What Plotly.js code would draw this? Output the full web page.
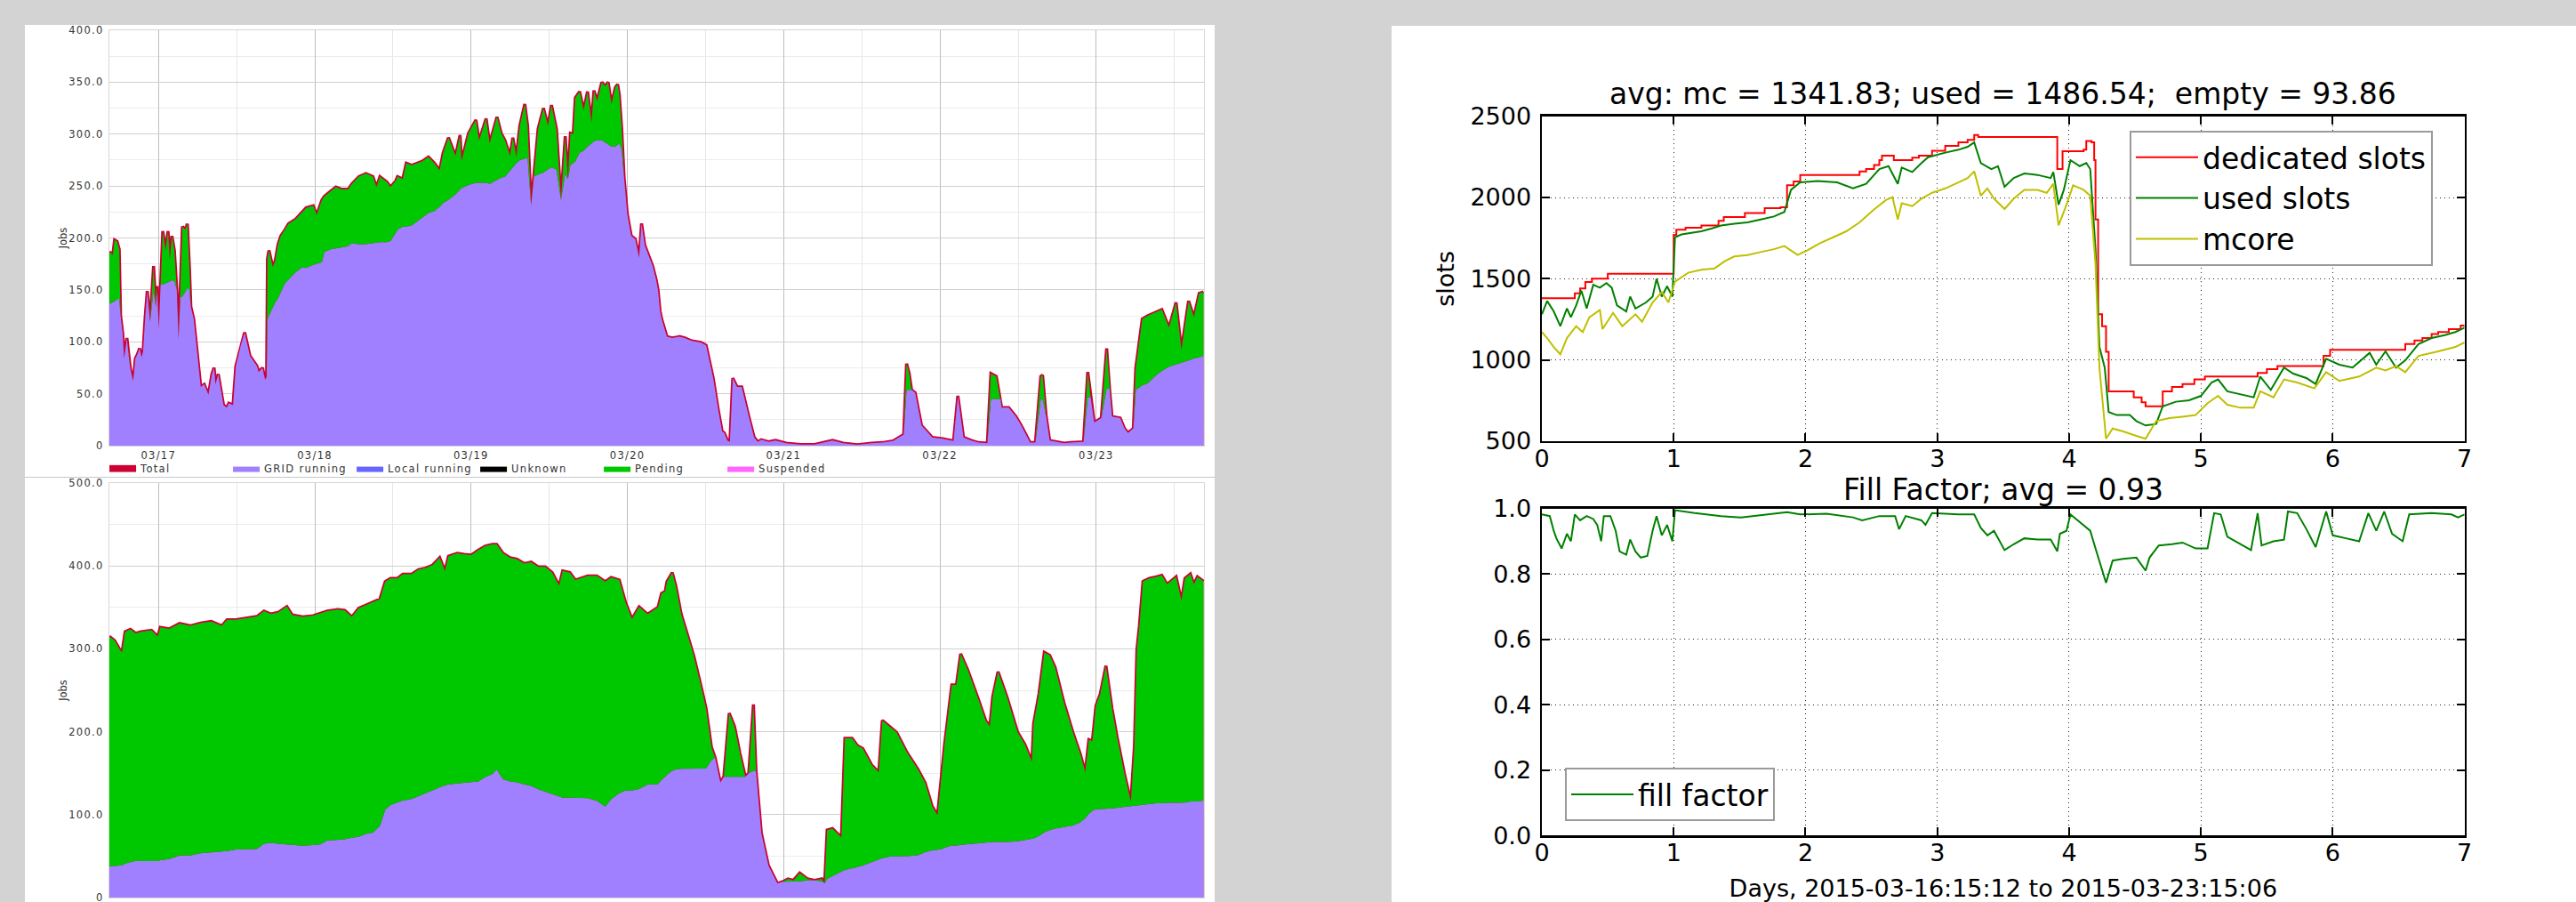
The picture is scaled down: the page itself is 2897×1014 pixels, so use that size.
<!DOCTYPE html>
<html>
<head>
<meta charset="utf-8">
<script src="https://cdn.plot.ly/plotly-3.0.1.min.js"></script>
<style>
  html, body { margin:0; padding:0; width:2897px; height:1014px; overflow:hidden; background:#d3d3d3; }
  #leftPanel { position:absolute; left:28px; top:28px; width:1338px; height:986px; background:#fff; }
  #jobsTop { position:absolute; left:28px; top:28px; width:1338px; height:508px; }
  #sep { position:absolute; left:28px; top:536px; width:1338px; height:1px; background:#c8c8c8; }
  #jobsBottom { position:absolute; left:28px; top:537px; width:1338px; height:477px; }
  #rightPanel { position:absolute; left:1565px; top:29px; width:1332px; height:985px; background:#fff; }
  .jobs .xtick text, .jobs .ytick text, .jobs .legendtext { letter-spacing:1.3px; }
</style>
</head>
<body>
<div id="leftPanel"></div>
<div id="jobsTop" class="jobs"></div>
<div id="sep"></div>
<div id="jobsBottom" class="jobs"></div>
<div id="rightPanel"></div>
<script>
// ---------------- DATA ----------------
// Left charts: rows of [hours since 2015-03-17 00:00, Total jobs, GRID running jobs]
// (Pending = the band between GRID running and Total)
const jobsTopRows = [
  [-7.56,186.6,136.6],[-7.02,183.7,138],[-6.75,198,139],[-6.37,196.6,141],[-6.04,189,142],
  [-5.83,125,125],[-5.5,108,108],[-5.29,83.7,83.7],[-4.86,103.7,103.7],[-4.53,84,84],
  [-4.32,73.7,73.7],[-3.89,62,62],[-3.56,84,84],[-3.24,88,88],[-2.91,93.7,93.7],
  [-2.59,85,85],[-2.37,91,91],[-2.05,123.7,123.7],[-1.73,149,149],[-1.3,119,119],
  [-0.76,173,150],[-0.43,133.7,133.7],[-0.22,153.7,150],[0.05,112,112],[0.32,161,155],
  [0.65,206.6,155],[1.08,188,156],[1.46,206.6,157],[1.73,179,158],[2.05,202,159],
  [2.43,188,159],[2.8,150,150],[3.08,102,102],[3.35,150,143],[3.67,211,143.7],
  [4.1,208,148],[4.43,213.7,152],[4.75,170,150],[4.96,133.7,133.7],[5.4,122,122],
  [6.26,73.7,73.7],[6.48,56.6,56.6],[7.02,59,59],[7.66,49,49],[8.2,69,69],
  [8.53,75,75],[8.74,59,59],[9.17,69,69],[9.98,39,39],[10.47,36.6,36.6],
  [10.79,40.8,40.8],[11.44,39,39],[11.87,76.6,76.6],[12.63,96.6,96.6],[13.22,109,109],
  [14.03,86.6,86.6],[15.11,76.6,76.6],[15.38,70.8,70.8],[15.97,75,75],[16.35,63.7,63.7],
  [16.6,66,66],[16.73,180,121],[16.95,188,125],[17.54,172,133],[17.92,178,138],
  [18.35,193.7,142],[18.78,202,148],[19.43,208,156.6],[19.97,213.7,160],[21.05,218,167],
  [22.13,225,172],[22.67,229,171],[23.75,231,174],[24.28,222,175],[25.09,236.6,176.6],
  [25.47,240,186.6],[26.44,245,189],[27.25,249,190],[28.06,247,191],[29.14,247,192],
  [29.68,252,195],[30.76,259,193.7],[31.84,262,194],[32.92,259,195],[33.46,249,195],
  [34.0,259,196],[35.08,253.7,196],[35.62,249,197],[36.43,255,205],[36.7,259,208],
  [37.5,256.6,211],[38.05,272,211],[38.86,270,212],[40.47,273.7,219],[41.45,278,224],
  [42.36,272,226],[43.17,265,230],[43.71,282,233.7],[44.52,296.6,236.6],[45.6,279,242],
  [46.3,299,246],[46.52,273.7,248],[47.6,300.8,251],[48.73,313.7,253],[49.22,293.7,253],
  [50.3,315,253],[50.84,291,252],[51.97,316.6,256],[52.62,300.8,258],[53.21,293.7,259],
  [53.97,279,265],[54.4,296.6,268],[54.94,278,272],[55.48,308,275],[56.24,329,276.6],
  [56.67,308,277],[57.21,231,231],[57.64,259,259],[58.29,305,261],[59.1,325,263],
  [59.8,308,266],[60.34,328,268],[61.1,305,266],[61.8,236.6,236.6],[62.45,298,262],
  [62.87,256.6,256.6],[63.25,300.8,270],[63.68,300,272],[64.0,335,273.7],[64.66,341,282],
  [65.27,323,284],[65.88,341,288],[66.49,311,291],[66.86,342,293],[67.34,332,294],
  [68.07,350,294],[68.56,346,292],[69.05,350,290],[69.54,329,288],[70.15,345,288],
  [70.5,348,290],[70.75,338,291],[71.12,305,285],[71.49,258,258],[71.98,223,223],
  [72.58,202,202],[73.2,199,199],[73.8,181,181],[74.17,214,214],[74.66,193,193],
  [75.4,181,181],[75.87,173,173],[76.4,160,160],[76.7,150,150],[77.0,130,130],
  [77.25,122,122],[78.07,105,105],[78.89,103.7,103.7],[79.98,105,105],[80.8,103.7,103.7],
  [81.89,100.8,100.8],[83.26,99.4,99.4],[84.08,96.6,96.6],[84.63,79,79],[85.17,65,65],
  [85.89,36.6,36.6],[86.54,13.7,13.7],[86.87,12.3,12.3],[87.36,5,5],[87.74,3.7,3.7],
  [88.18,65,65],[88.84,56.6,56.6],[89.55,56.6,56.6],[90.64,28,28],[91.46,8,8],
  [92.01,3.7,3.7],[92.56,5.7,5.7],[93.65,3.7,3.7],[94.74,5,5],[96.38,2.3,2.3],
  [98.57,1.1,1.1],[100.76,1.1,1.1],[101.85,2.9,2.9],[103.49,5,5],[105.13,2.3,2.3],
  [107.32,0.8,0.8],[109.5,2.3,2.3],[111.14,2.9,2.9],[112.79,4.6,4.6],[114.43,10.8,10.8],
  [114.86,79,53.7],[115.25,70,53.7],[115.63,53.7,53.7],[116.18,51,51],[117.16,19.4,19.4],
  [117.98,13.7,13.7],[118.8,8,8],[120.44,6.6,6.6],[122.08,4.6,4.6],[122.74,48,48],
  [123.61,8,8],[124.81,5,5],[125.91,2.9,2.9],[127.27,2.3,2.3],[127.82,69.4,45],
  [128.64,66.6,45],[129.3,45,45],[129.46,36.6,36.6],[130.55,36.6,36.6],[131.65,28,28],
  [132.47,19.4,19.4],[133.83,2.9,2.9],[134.65,2.9,2.9],[135.48,66.6,45],[135.75,68,45],
  [136.3,28,28],[136.84,5,5],[137.94,3.7,3.7],[139.03,2.3,2.3],[140.12,2.9,2.9],
  [142.04,3.7,3.7],[142.69,71,46.6],[143.13,46.6,46.6],[143.68,22.3,22.3],[144.77,26.6,26.6],
  [145.59,93.7,55],[146.03,55,55],[146.41,28,28],[147.67,26.6,26.6],[148.32,16.6,16.6],
  [148.87,12.3,12.3],[149.69,16.6,16.6],[150.07,75,53.7],[151.06,122,58],[151.88,125,60],
  [153.24,129,68],[154.06,131,72],[155.16,113.7,76],[156.25,138,78],[157.07,92,79.4],
  [158.17,139.4,82],[158.99,123.7,84],[159.8,146.6,85],[160.46,148,86.6]
];

const jobsBottomRows = [
  [-7.56,315,37.5],[-6.75,310,38],[-5.94,299,38.5],[-5.6,295.6,39],[-5.13,320.6,41],
  [-4.32,323.4,42.5],[-3.51,318.8,44.3],[-2.7,320.6,44],[-1.08,322.4,43.6],[-0.11,315,44],
  [0.27,326,45],[1.62,324,46.5],[3.24,330.6,50.7],[4.86,327.7,50.7],[6.48,331,53.3],
  [8.1,333,54.3],[9.71,327.7,55],[10.52,335,56],[11.87,335,57.9],[14.03,337.7,58.6],
  [15.11,339,58.6],[16.19,345.6,65],[17.27,342,66],[18.35,343.8,65],[19.7,351,64],
  [20.51,341,63.3],[22.13,338.5,62.5],[23.75,340,63.3],[24.82,342.7,64],[25.9,345.6,68.6],
  [27.52,347.4,69.7],[28.6,346.3,70.4],[29.68,338.5,72.2],[30.76,349,73.3],[31.84,352.7,76.8],
  [32.92,356.3,78.3],[34.0,360,86.5],[34.81,381,106],[35.62,385,111.5],[36.7,385,115],
  [37.51,390,117],[38.86,390,118.7],[39.93,395.6,122],[41.01,397.4,125.8],[42.09,401,129.4],
  [43.17,410,133],[43.98,393.8,135.5],[44.52,411.7,136.5],[45.87,415.3,137.6],[46.95,414,138.3],
  [48.03,413.2,139],[49.11,418.9,140],[50.19,424,145.5],[51.27,426,149],[51.92,426,154.4],
  [52.89,415.3,142.6],[53.97,410,140],[55.05,408,139],[56.13,402.8,136.5],[57.21,404.6,134.7],
  [58.29,399,130.5],[59.37,399,127.6],[60.44,392,124.7],[61.52,376,122],[62.06,394,120.4],
  [63.14,392,120.4],[64.0,383,120.4],[65.9,388,120],[67.3,388,116.8],[68.6,381,109.6],
  [69.5,386,118.6],[70.75,383,125.7],[71.7,356,129],[72.7,336,129],[73.8,350.6,131],
  [75.1,341.7,136.4],[76.7,350,136.8],[77.25,367,142],[77.8,369,145.7],[78.07,381,148],
  [78.89,392,152.9],[79.43,376,154.6],[80.25,342,155.4],[81.07,320.7,155.7],[82.17,292,155.7],
  [83.26,256.4,155.7],[84.08,228,155.7],[84.9,181.4,165.4],[85.45,169,169],[86.27,138.6,138.6],
  [86.81,145.7,145.7],[87.63,222.5,145.7],[88.45,206.4,145.7],[89.27,174,145.7],[90.1,145.7,145.7],
  [90.64,150,150],[91.35,233,152.9],[91.74,152.9,152.9],[92.56,77.9,77.9],[93.65,38.6,38.6],
  [95.02,17.1,17.1],[95.84,19,19],[96.66,22.5,19],[97.48,20.7,19],[98.46,29.6,19.6],
  [99.66,22.5,20.7],[100.76,20.7,20.7],[101.85,22.5,19.6],[102.29,17.1,17.1],[102.67,81.4,22.5],
  [103.49,83.2,26],[104.86,72.5,31.4],[105.4,192,33.2],[106.5,192,35],[107.32,183.2,36.8],
  [108.14,179.6,38.6],[109.5,160,42.9],[110.6,151,45.7],[111.14,213.6,47.5],[112.24,206.4,49.3],
  [113.33,199.3,49.3],[114.97,174.3,50],[116.61,154.6,51],[117.71,138.6,54.6],[118.8,110,57],
  [119.62,99.3,58.2],[120.17,145.7,58.2],[120.71,185,60],[121.81,256.4,62.9],[122.52,256.4,62.9],
  [123.17,294,63.6],[124.27,274.3,64.3],[125.91,238.6,65.4],[127.0,213.6,66.4],[127.66,206.4,67],
  [128.09,242,67],[128.91,272.5,67],[130.28,242,67],[131.92,199.3,67.9],[133.01,185,68.9],
  [134.11,163.6,70.7],[134.38,210,71],[135.2,245.7,74.3],[136.02,295.7,78.6],[136.84,292,81.4],
  [137.66,277.9,83.2],[139.03,235,85],[140.4,199.3,86.8],[141.49,174.3,90.4],[142.31,151,95.7],
  [142.86,190.4,101],[143.4,188.6,104.6],[143.95,231.4,106.4],[144.61,245.7,107],[145.48,279.6,107],
  [146.41,227.9,107.5],[147.23,192,108.2],[148.32,149.3,109.3],[149.31,115.4,110],[149.86,183.2,110.7],
  [150.24,299.3,111],[150.62,327.9,111],[151.17,381.4,111.8],[152.15,385,112.9],[153.24,386.8,113.6],
  [154.06,388.6,113.6],[154.88,377.9,114.3],[156.25,386.8,114.3],[157.07,358.2,114.6],[157.62,385,114.6],
  [158.44,390.4,116],[158.99,377.9,116],[159.53,386.8,116],[160.46,381.4,117]
];

// Series shown in the legend that stay at zero over the whole week
const localRunning = [0, 0];
const unknownJobs = [0, 0];
const suspendedJobs = [0, 0];

const jobsYTopVals = [0, 50, 100, 150, 200, 250, 300, 350, 400];
const jobsYTopText = ['0', '50.0', '100.0', '150.0', '200.0', '250.0', '300.0', '350.0', '400.0'];
const jobsYBotVals = [0, 100, 200, 300, 400, 500];
const jobsYBotText = ['0', '100.0', '200.0', '300.0', '400.0', '500.0'];

// Right charts: [day, value]
const dedicatedSlots = [
  [0,1380],[0.25,1410],[0.29,1440],[0.33,1480],[0.38,1500],[0.5,1531],[1.0,1770],[1.02,1801],
  [1.09,1814],[1.21,1828],[1.34,1856],[1.38,1880],[1.54,1905],[1.69,1934],[1.81,1940],[1.86,2075],
  [1.91,2099],[1.96,2139],[2.41,2160],[2.46,2175],[2.52,2200],[2.56,2230],[2.58,2257],[2.67,2230],
  [2.81,2245],[2.86,2257],[2.96,2288],[3.06,2317],[3.16,2339],[3.23,2354],[3.28,2385],[3.31,2372],
  [3.91,2175],[3.95,2285],[4.11,2294],[4.13,2348],[4.17,2339],[4.19,2230],[4.2,1865],[4.22,1281],
  [4.25,1208],[4.28,1050],[4.3,807],[4.49,770],[4.55,740],[4.58,715],[4.71,807],[4.78,834],
  [4.86,852],[4.95,880],[5.03,898],[5.43,920],[5.5,943],[5.58,962],[5.93,1025],[5.98,1062],
  [6.55,1098],[6.62,1120],[6.68,1135],[6.75,1160],[6.8,1172],[6.88,1190],[6.97,1212],[7.0,1212]
];
const usedSlots = [
  [0,1281],[0.04,1363],[0.09,1299],[0.14,1208],[0.19,1317],[0.22,1263],[0.26,1336],[0.3,1427],
  [0.34,1317],[0.39,1463],[0.44,1445],[0.49,1473],[0.53,1445],[0.57,1336],[0.64,1299],[0.67,1390],
  [0.71,1317],[0.79,1354],[0.84,1390],[0.87,1500],[0.91,1390],[0.95,1454],[0.99,1390],[1.01,1755],
  [1.06,1773],[1.14,1783],[1.21,1792],[1.29,1810],[1.36,1828],[1.46,1838],[1.56,1847],[1.66,1865],
  [1.76,1883],[1.84,1911],[1.89,2047],[1.96,2093],[2.09,2102],[2.24,2093],[2.36,2056],[2.46,2084],
  [2.56,2175],[2.63,2193],[2.7,2084],[2.73,2184],[2.81,2157],[2.88,2212],[2.93,2248],[3.06,2276],
  [3.16,2294],[3.23,2312],[3.28,2339],[3.33,2212],[3.41,2175],[3.46,2193],[3.51,2066],[3.58,2120],
  [3.66,2148],[3.76,2139],[3.86,2120],[3.88,2157],[3.92,1956],[3.96,2047],[4.01,2230],[4.08,2193],
  [4.13,2212],[4.16,2175],[4.2,1682],[4.23,1080],[4.27,953],[4.3,679],[4.36,661],[4.46,661],
  [4.51,624],[4.58,597],[4.66,606],[4.71,715],[4.81,743],[4.91,752],[5.0,779],[5.08,861],
  [5.13,880],[5.2,807],[5.3,788],[5.4,770],[5.45,898],[5.53,816],[5.63,953],[5.7,916],
  [5.8,889],[5.87,852],[5.95,1007],[6.05,971],[6.15,953],[6.28,1044],[6.33,971],[6.4,1053],
  [6.48,953],[6.55,998],[6.65,1098],[6.75,1135],[6.85,1153],[6.93,1172],[7.0,1199]
];
const mcoreSlots = [
  [0,1172],[0.04,1135],[0.09,1080],[0.14,1035],[0.19,1135],[0.26,1208],[0.31,1172],[0.36,1263],
  [0.44,1308],[0.46,1190],[0.54,1290],[0.61,1208],[0.71,1281],[0.76,1235],[0.84,1354],[0.91,1418],
  [0.96,1354],[1.01,1482],[1.11,1537],[1.21,1555],[1.31,1564],[1.39,1609],[1.46,1637],[1.56,1646],
  [1.66,1664],[1.76,1682],[1.84,1701],[1.94,1646],[2.01,1673],[2.11,1719],[2.21,1755],[2.31,1792],
  [2.41,1847],[2.51,1920],[2.61,1984],[2.66,2002],[2.7,1865],[2.73,1965],[2.81,1947],[2.88,1993],
  [2.96,2029],[3.06,2056],[3.16,2093],[3.23,2120],[3.28,2161],[3.33,2011],[3.38,2056],[3.43,1993],
  [3.51,1929],[3.58,1993],[3.66,2047],[3.76,2047],[3.83,2029],[3.88,2084],[3.92,1828],[3.98,1956],
  [4.03,2075],[4.11,2047],[4.16,2011],[4.2,1591],[4.23,953],[4.28,515],[4.33,578],[4.41,560],
  [4.51,533],[4.58,515],[4.66,624],[4.76,642],[4.86,651],[4.96,661],[5.05,734],[5.13,779],
  [5.2,724],[5.3,706],[5.4,706],[5.45,807],[5.55,770],[5.63,880],[5.73,861],[5.86,825],
  [5.95,925],[6.05,871],[6.2,898],[6.33,953],[6.4,935],[6.48,962],[6.55,925],[6.65,1025],
  [6.8,1053],[6.93,1080],[7.0,1108]
];
const fillFactor = [
  [0,0.982],[0.06,0.977],[0.09,0.932],[0.11,0.909],[0.15,0.878],[0.19,0.923],[0.22,0.9],[0.25,0.982],
  [0.29,0.964],[0.34,0.977],[0.39,0.968],[0.42,0.95],[0.45,0.9],[0.47,0.977],[0.52,0.977],[0.56,0.932],
  [0.59,0.869],[0.64,0.859],[0.67,0.905],[0.71,0.869],[0.75,0.85],[0.8,0.855],[0.84,0.932],[0.87,0.977],
  [0.91,0.918],[0.95,0.95],[0.99,0.9],[1.01,0.995],[1.16,0.986],[1.36,0.977],[1.51,0.973],[1.66,0.979],
  [1.86,0.989],[1.96,0.982],[2.16,0.984],[2.36,0.973],[2.43,0.964],[2.56,0.977],[2.68,0.977],[2.71,0.937],
  [2.76,0.977],[2.88,0.964],[2.91,0.95],[2.96,0.986],[3.16,0.982],[3.28,0.982],[3.33,0.941],[3.38,0.918],
  [3.43,0.932],[3.51,0.873],[3.58,0.891],[3.66,0.909],[3.76,0.905],[3.86,0.905],[3.91,0.869],[3.93,0.923],
  [3.98,0.932],[4.01,0.982],[4.08,0.959],[4.16,0.932],[4.2,0.878],[4.23,0.841],[4.28,0.773],[4.33,0.841],
  [4.41,0.846],[4.51,0.85],[4.58,0.81],[4.61,0.85],[4.68,0.887],[4.78,0.891],[4.86,0.896],[4.96,0.878],
  [5.05,0.878],[5.1,0.986],[5.15,0.982],[5.2,0.914],[5.3,0.891],[5.38,0.873],[5.43,0.986],[5.46,0.887],
  [5.55,0.9],[5.63,0.905],[5.66,0.991],[5.73,0.986],[5.8,0.937],[5.87,0.882],[5.95,0.991],[6.0,0.918],
  [6.1,0.909],[6.2,0.9],[6.27,0.986],[6.33,0.932],[6.39,0.991],[6.45,0.923],[6.53,0.9],[6.58,0.982],
  [6.75,0.986],[6.9,0.982],[6.95,0.973],[7.0,0.982]
];

const topTitle = 'avg: mc = 1341.83; used = 1486.54;  empty = 93.86';
const bottomTitle = 'Fill Factor; avg = 0.93';
const xLabel = 'Days, 2015-03-16:15:12 to 2015-03-23:15:06';

// ---------------- LEFT (job monitor) ----------------
const DAY0 = Date.UTC(2015, 2, 17);
function hoursToDate(h) {
  return new Date(DAY0 + h * 3600000).toISOString().slice(0, 19).replace('T', ' ');
}
const X_START = '2015-03-16 16:27';
const X_END = '2015-03-23 16:32';
const C = { total:'#cc0033', grid:'#a080ff', local:'#6666ff', unknown:'#000000', pending:'#00c800', suspended:'#ff66ff' };
const jobsFont = { family:'DejaVu Sans, sans-serif', size:11.5, color:'#333333' };

function jobsTraces(rows, showlegend) {
  const x = rows.map(r => hoursToDate(r[0]));
  const total = rows.map(r => r[1]);
  const grid = rows.map(r => r[2]);
  const ends = [x[0], x[x.length - 1]];
  return [
    { x, y: total, name:'Total', type:'scatter', mode:'lines', fill:'tozeroy', fillcolor:C.total,
      line:{ color:C.total, width:3.5 }, legendrank:1, showlegend },
    { x, y: grid, name:'GRID running', type:'scatter', mode:'lines', fill:'tozeroy', fillcolor:C.grid,
      line:{ color:C.grid, width:0 }, legendrank:2, showlegend },
    { x, y: total, name:'Pending', type:'scatter', mode:'lines', fill:'tonexty', fillcolor:C.pending,
      line:{ color:C.pending, width:0 }, legendrank:5, showlegend },
    { x: ends, y: localRunning, name:'Local running', type:'scatter', mode:'lines', fill:'tozeroy',
      fillcolor:C.local, line:{ color:C.local, width:0 }, legendrank:3, showlegend },
    { x: ends, y: unknownJobs, name:'Unknown', type:'scatter', mode:'lines', fill:'tozeroy',
      fillcolor:C.unknown, line:{ color:C.unknown, width:0 }, legendrank:4, showlegend },
    { x: ends, y: suspendedJobs, name:'Suspended', type:'scatter', mode:'lines', fill:'tozeroy',
      fillcolor:C.suspended, line:{ color:C.suspended, width:0 }, legendrank:6, showlegend }
  ];
}

function jobsLayout(opts) {
  return {
    width:1338, height:opts.height,
    margin:{ l:94.9, r:12, t:opts.t, b:opts.b, pad:0, autoexpand:false },
    paper_bgcolor:'rgba(0,0,0,0)', plot_bgcolor:'#ffffff',
    showlegend:opts.legend,
    legend:{ orientation:'h', x:-0.004, xanchor:'left', y:opts.legendY, yanchor:'middle',
      font:jobsFont, entrywidth:94, entrywidthmode:'pixels', itemwidth:30,
      bgcolor:'rgba(0,0,0,0)', traceorder:'normal' },
    xaxis:{ type:'date', range:[X_START, X_END], tickmode:'linear', tick0:'2015-03-17', dtick:86400000,
      tickformat:'%m/%d', showticklabels:opts.xlabels, tickfont:jobsFont, ticks:'',
      ticklabeloverflow:'allow', automargin:false,
      showgrid:true, gridcolor:'#bdbdbd', gridwidth:1,
      minor:{ tick0:'2015-03-16 12:00', dtick:43200000, showgrid:true, gridcolor:'#e6e6e6', ticks:'' },
      showline:true, mirror:true, linecolor:'#d6d6d6', linewidth:1, zeroline:false },
    yaxis:{ range:[0, opts.ymax], tickmode:'array', tickvals:opts.tickvals, ticktext:opts.ticktext,
      tickfont:jobsFont, ticks:'', ticklabelstandoff:3, ticklabeloverflow:'allow', automargin:false,
      showgrid:true, gridcolor:'#d0d0d0', gridwidth:1,
      minor:{ tick0:0, dtick:opts.minor, showgrid:true, gridcolor:'#ececec', ticks:'' },
      showline:true, mirror:true, linecolor:'#d6d6d6', linewidth:1, zeroline:false,
      title:{ text:'Jobs', font:{ family:'DejaVu Sans, sans-serif', size:11.5, color:'#333333' }, standoff:5 } }
  };
}

const cfg = { staticPlot:true, displayModeBar:false };

Plotly.newPlot('jobsTop', jobsTraces(jobsTopRows, true),
  jobsLayout({ height:508, t:6.4, b:34.5, legend:true, legendY:-0.0548, xlabels:true,
    ymax:400, tickvals:jobsYTopVals, ticktext:jobsYTopText, minor:25 }), cfg);

Plotly.newPlot('jobsBottom', jobsTraces(jobsBottomRows, false),
  jobsLayout({ height:477, t:5.7, b:5, legend:false, legendY:-0.1, xlabels:false,
    ymax:500, tickvals:jobsYBotVals, ticktext:jobsYBotText, minor:50 }), cfg);

// ---------------- RIGHT (matplotlib style) ----------------
const mplFont = { family:'DejaVu Sans, sans-serif', size:27, color:'#000000' };
const XDOM = [0.12688, 0.90593];
function mplAxis(extra) {
  return Object.assign({
    showline:true, linecolor:'#000000', linewidth:2.5, mirror:'ticks',
    ticks:'inside', ticklen:9, tickwidth:2, tickcolor:'#000000',
    showgrid:true, gridcolor:'#222222', gridwidth:1, griddash:'1px,4px',
    zeroline:false, tickfont:mplFont, automargin:false, ticklabeloverflow:'allow'
  }, extra);
}
const px = a => a.map(p => p[0]);
const py = a => a.map(p => p[1]);

const rightTraces = [
  { x:px(dedicatedSlots), y:py(dedicatedSlots), xaxis:'x', yaxis:'y', type:'scatter', mode:'lines',
    name:'dedicated slots', line:{ color:'#ff0000', width:2, shape:'hv' }, legend:'legend' },
  { x:px(usedSlots), y:py(usedSlots), xaxis:'x', yaxis:'y', type:'scatter', mode:'lines',
    name:'used slots', line:{ color:'#008000', width:2 }, legend:'legend' },
  { x:px(mcoreSlots), y:py(mcoreSlots), xaxis:'x', yaxis:'y', type:'scatter', mode:'lines',
    name:'mcore', line:{ color:'#bfbf00', width:2 }, legend:'legend' },
  { x:px(fillFactor), y:py(fillFactor), xaxis:'x2', yaxis:'y2', type:'scatter', mode:'lines',
    name:'fill factor', line:{ color:'#008000', width:2 }, legend:'legend2' }
];

const legendBase = { xanchor:'left', yanchor:'top', bgcolor:'#ffffff', bordercolor:'#9a9a9a', borderwidth:2,
  font:{ family:'DejaVu Sans, sans-serif', size:33, color:'#000000' }, itemwidth:70, tracegroupgap:0 };

const rightLayout = {
  width:1332, height:985, margin:{ l:0, r:0, t:0, b:0, autoexpand:false },
  paper_bgcolor:'#ffffff', plot_bgcolor:'#ffffff', showlegend:true,
  legend:Object.assign({ x:0.6231, y:0.8805 }, legendBase),
  legend2:Object.assign({ x:0.1464, y:0.1533 }, legendBase),
  xaxis:mplAxis({ domain:XDOM, range:[0, 7], tickmode:'linear', tick0:0, dtick:1, anchor:'y', ticklabelstandoff:-6 }),
  yaxis:mplAxis({ domain:[0.52589, 0.89675], range:[500, 2500], tickmode:'linear', tick0:500, dtick:500,
    anchor:'x', ticklabelstandoff:4, title:{ text:'slots', font:mplFont, standoff:10 } }),
  xaxis2:mplAxis({ domain:XDOM, range:[0, 7], tickmode:'linear', tick0:0, dtick:1, anchor:'y2', ticklabelstandoff:-6,
    title:{ text:xLabel, font:mplFont, standoff:20 } }),
  yaxis2:mplAxis({ domain:[0.07584, 0.44904], range:[0, 1], tickmode:'linear', tick0:0, dtick:0.2,
    tickformat:'.1f', anchor:'x2', ticklabelstandoff:4 }),
  annotations:[
    { text:topTitle, xref:'paper', yref:'paper', x:(XDOM[0] + XDOM[1]) / 2, y:0.92254,
      xanchor:'center', yanchor:'middle', showarrow:false,
      font:{ family:'DejaVu Sans, sans-serif', size:33, color:'#000000' } },
    { text:bottomTitle, xref:'paper', yref:'paper', x:(XDOM[0] + XDOM[1]) / 2, y:0.4705,
      xanchor:'center', yanchor:'middle', showarrow:false,
      font:{ family:'DejaVu Sans, sans-serif', size:33, color:'#000000' } }
  ]
};

Plotly.newPlot('rightPanel', rightTraces, rightLayout, cfg);
</script>
</body>
</html>
